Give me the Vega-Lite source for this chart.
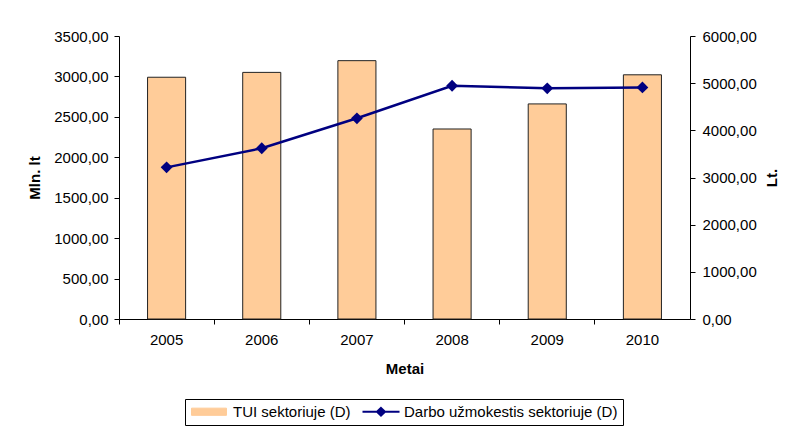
{
  "$schema": "https://vega.github.io/schema/vega-lite/v6.json",
  "width": 571,
  "height": 283,
  "autosize": {"type": "none"},
  "padding": {"left": 119, "top": 36, "right": 97, "bottom": 107},
  "background": "white",
  "config": {
    "view": {"stroke": null},
    "font": "Liberation Sans",
    "axis": {
      "labelFont": "Liberation Sans",
      "labelFontSize": 15,
      "labelColor": "black",
      "titleFont": "Liberation Sans",
      "titleFontSize": 15,
      "titleFontWeight": "bold",
      "titleColor": "black",
      "domainColor": "black",
      "tickColor": "black",
      "grid": false,
      "tickSize": 5
    },
    "legend": {
      "orient": "none",
      "legendX": 66,
      "legendY": 363,
      "direction": "horizontal",
      "strokeColor": "black",
      "fillColor": "white",
      "padding": 5,
      "labelFont": "Liberation Sans",
      "labelFontSize": 15,
      "labelColor": "black",
      "labelLimit": 400,
      "columnPadding": 7,
      "symbolSize": 144,
      "labelOffset": 28
    }
  },
  "data": {
    "values": [
      {"year": "2005", "tui": 2990, "darbo": 3215},
      {"year": "2006", "tui": 3050, "darbo": 3620},
      {"year": "2007", "tui": 3195, "darbo": 4255},
      {"year": "2008", "tui": 2350, "darbo": 4945},
      {"year": "2009", "tui": 2660, "darbo": 4890},
      {"year": "2010", "tui": 3020, "darbo": 4910}
    ]
  },
  "layer": [
    {
      "mark": {"type": "bar", "width": {"band": 0.4}, "stroke": "#222222", "strokeWidth": 1},
      "encoding": {
        "x": {
          "field": "year",
          "type": "ordinal",
          "scale": {"paddingInner": 0, "paddingOuter": 0},
          "axis": {"orient": "bottom", "ticks": false, "tickSize": 0, "labelPadding": 13, "labelAngle": 0, "title": "Metai", "titlePadding": 14}
        },
        "y": {
          "field": "tui",
          "type": "quantitative",
          "scale": {"domain": [0, 3500]},
          "axis": {
            "orient": "left",
            "values": [0, 500, 1000, 1500, 2000, 2500, 3000, 3500],
            "labelExpr": "replace(format(datum.value, '.2f'), '.', ',')",
            "title": "Mln. lt",
            "titlePadding": 11,
            "labelPadding": 6
          }
        },
        "color": {
          "datum": "TUI sektoriuje (D)",
          "scale": {
            "domain": ["TUI sektoriuje (D)", "Darbo užmokestis sektoriuje (D)"],
            "range": ["#FFCC99", "#000080"]
          },
          "legend": {
            "title": null,
            "encode": {
              "symbols": {
                "update": {
                  "shape": {"signal": "datum.value === 'TUI sektoriuje (D)' ? 'M-1,-0.6H4.83V0.6H-1Z' : 'M-1,0H5.17M2.08,-0.65L2.75,0L2.08,0.65L1.41,0Z'"},
                  "fill": {"signal": "datum.value === 'TUI sektoriuje (D)' ? '#FFCC99' : '#000080'"},
                  "stroke": {"signal": "datum.value === 'TUI sektoriuje (D)' ? '#222222' : '#000080'"},
                  "strokeWidth": {"signal": "datum.value === 'TUI sektoriuje (D)' ? 1 : 2"},
                  "opacity": {"value": 1},
                  "fillOpacity": {"value": 1}
                }
              }
            }
          }
        }
      }
    },
    {
      "mark": {
        "type": "line",
        "strokeWidth": 2.5,
        "point": {"shape": "diamond", "size": 140, "filled": true, "color": "#000080"}
      },
      "encoding": {
        "x": {
          "field": "year",
          "type": "ordinal",
          "axis": {"orient": "bottom", "bandPosition": 0, "labels": false, "domain": false, "title": null, "ticks": true, "tickSize": 5}
        },
        "y": {
          "field": "darbo",
          "type": "quantitative",
          "scale": {"domain": [0, 6000]},
          "axis": {
            "orient": "right",
            "values": [0, 1000, 2000, 3000, 4000, 5000, 6000],
            "labelExpr": "replace(format(datum.value, '.2f'), '.', ',')",
            "title": "Lt.",
            "titleAngle": 270,
            "titleBaseline": "top",
            "titlePadding": 8,
            "labelPadding": 7
          }
        },
        "color": {
          "datum": "Darbo užmokestis sektoriuje (D)",
          "legend": {
            "title": null,
            "encode": {
              "symbols": {
                "update": {
                  "shape": {"signal": "datum.value === 'TUI sektoriuje (D)' ? 'M-1,-0.6H4.83V0.6H-1Z' : 'M-1,0H5.17M2.08,-0.65L2.75,0L2.08,0.65L1.41,0Z'"},
                  "fill": {"signal": "datum.value === 'TUI sektoriuje (D)' ? '#FFCC99' : '#000080'"},
                  "stroke": {"signal": "datum.value === 'TUI sektoriuje (D)' ? '#222222' : '#000080'"},
                  "strokeWidth": {"signal": "datum.value === 'TUI sektoriuje (D)' ? 1 : 2"},
                  "opacity": {"value": 1},
                  "fillOpacity": {"value": 1}
                }
              }
            }
          }
        }
      }
    }
  ],
  "resolve": {"scale": {"y": "independent"}, "axis": {"x": "independent"}}
}
